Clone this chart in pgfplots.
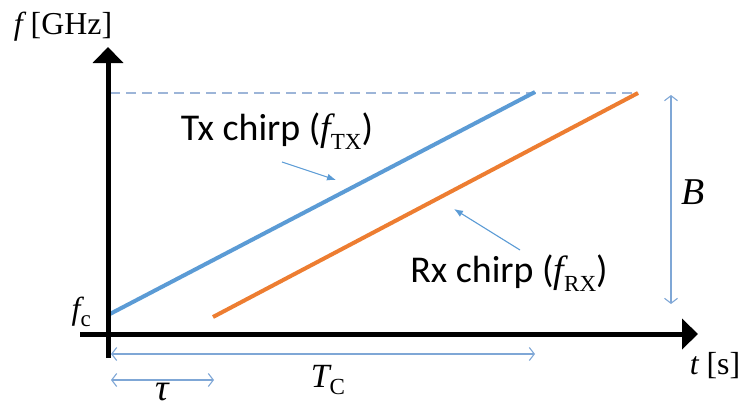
\documentclass[border=0pt]{standalone}
\usepackage{pgfplots}
\pgfplotsset{compat=1.18}
\usepackage{fontspec}
\setmainfont{Carlito}
\newfontfamily\serif{Liberation Serif}
\usetikzlibrary{arrows.meta}

\definecolor{txblue}{HTML}{5B9BD5}
\definecolor{rxorange}{HTML}{ED7D31}
\definecolor{dimblue}{HTML}{7FA7D6}
\definecolor{dashblue}{HTML}{9DB5D8}

% italic symbol with an upright, lowered subscript
\newcommand\sym[2]{{\serif\itshape #1}\raisebox{-0.22em}{\serif\fontsize{0.68\dimexpr\fsz\relax}{1em}\selectfont #2}}
\newcommand\fsz{34pt}

\begin{document}
\begin{tikzpicture}
\begin{axis}[
  at={(0,0)}, anchor=south west,
  width=747bp, height=410bp, scale only axis,
  xmin=0, xmax=747, ymin=0, ymax=410,
  y dir=reverse,
  hide axis, clip=false,
]
% upper frequency bound
\addplot[dashblue, line width=1.2bp, dash pattern=on 10bp off 6bp] coordinates {(110,93) (638,93)};
% transmitted and received chirps
\addplot[txblue, line width=4bp] coordinates {(108,315) (535,92)};
\addplot[rxorange, line width=4bp] coordinates {(213,317) (638,93)};
% axes
\addplot[black, line width=5bp, -{Triangle[length=16bp,width=30bp]}] coordinates {(108,358) (108,47)};
\addplot[black, line width=5bp, -{Triangle[length=16bp,width=30bp]}] coordinates {(80,334) (698,334)};
% bandwidth, chirp duration and delay
\addplot[dimblue, line width=1.1bp, {Straight Barb[length=5bp,width=13bp]}-{Straight Barb[length=5bp,width=13bp]}] coordinates {(671,95) (671,304)};
\addplot[dimblue, line width=1.1bp, {Straight Barb[length=5bp,width=13bp]}-{Straight Barb[length=5bp,width=13bp]}] coordinates {(111,354) (535,354)};
\addplot[dimblue, line width=1.1bp, {Straight Barb[length=5bp,width=13bp]}-{Straight Barb[length=5bp,width=13bp]}] coordinates {(111,380) (214,380)};
% pointers to the chirps
\addplot[txblue, line width=1.1bp, -{Latex[length=9bp,width=7bp]}] coordinates {(282,162) (336,180)};
\addplot[txblue, line width=1.1bp, -{Latex[length=9bp,width=7bp]}] coordinates {(520,250) (454,209)};
% labels
\node[font=\serif\fontsize{32}{36}\selectfont] at (axis cs:63,27) {{\itshape f} [GHz]};
\node[font=\fontsize{32}{36}\selectfont, anchor=east, inner sep=0pt] at (axis cs:91,312) {\sym{f}{c}};
\node[font=\serif\fontsize{32}{36}\selectfont] at (axis cs:715,366) {{\itshape t} [s]};
\node[font=\fontsize{38}{40}\selectfont] at (axis cs:277,131) {Tx chirp (\sym{f}{TX})};
\node[font=\fontsize{38}{40}\selectfont] at (axis cs:509,273) {Rx chirp (\sym{f}{RX})};
\node[font=\serif\itshape\fontsize{38}{40}\selectfont] at (axis cs:693,192) {B};
\node[font=\fontsize{34}{38}\selectfont] at (axis cs:328,380) {\sym{T}{C}};
\node[font=\serif\itshape\fontsize{38}{40}\selectfont, inner sep=0pt] at (axis cs:162,392) {τ};
\end{axis}
\path (0,0) rectangle (747bp,410bp);
\end{tikzpicture}
\end{document}
